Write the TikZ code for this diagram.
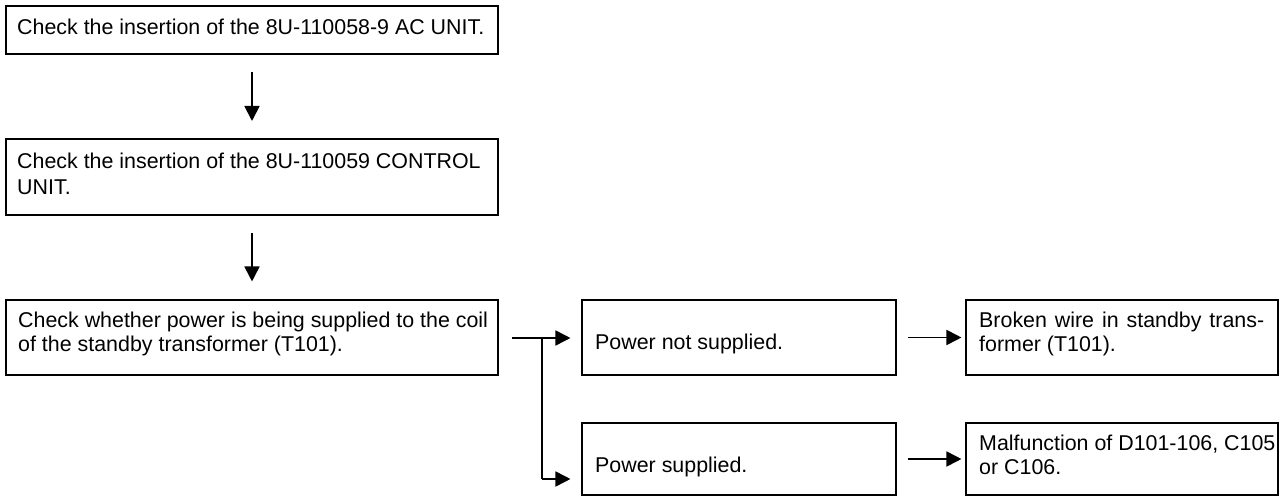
\documentclass[tikz,border=0pt]{standalone}
\usepackage{fontspec}
\setmainfont{Liberation Sans}
\usetikzlibrary{arrows.meta,calc}
\begin{document}
\begin{tikzpicture}[x=1pt,y=-1pt,
  thickbox/.style={draw,line width=2pt,inner sep=0pt},
  thinbox/.style={draw,line width=1.1pt,inner sep=0pt},
  txt/.style={anchor=north west,inner sep=0pt,align=left,font=\fontsize{21.4}{24}\selectfont},
  arr/.style={line width=1.8pt,-{Triangle[length=15pt,width=15pt]}},
  vline/.style={line width=1.8pt},
]
\useasboundingbox (0,0) rectangle (1286,497);
% boxes
\node[thickbox,minimum width=492pt,minimum height=48pt] (B1) at (252,30) {};
\node[thickbox,minimum width=492pt,minimum height=76pt] (B2) at (252,177) {};
\node[thinbox,minimum width=492pt,minimum height=75pt] (B3) at (252,337.5) {};
\node[thinbox,minimum width=314pt,minimum height=75pt] (B4) at (739,337.5) {};
\node[thinbox,minimum width=314pt,minimum height=72pt] (B5) at (739,459) {};
\node[thinbox,minimum width=312pt,minimum height=75pt] (B6) at (1122,337.5) {};
\node[thinbox,minimum width=312pt,minimum height=72pt] (B7) at (1122,459) {};
% texts
\node[txt] (T1) at (17,18) {\rule{0pt}{16pt}Check the insertion of the 8U-110058-9 AC UNIT.};
\node[txt,font=\fontsize{21.4}{26}\selectfont] (T2) at (17,152) {\rule{0pt}{16pt}Check the insertion of the 8U-110059 CONTROL\\UNIT.};
\node[txt] (T3) at (18,311) {\rule{0pt}{16pt}Check whether power is being supplied to the coil\\of the standby transformer (T101).};
\node[txt] (T4) at (595,333) {\rule{0pt}{16pt}Power not supplied.};
\node[txt] (T5) at (595,456) {\rule{0pt}{16pt}Power supplied.};
\node[txt,text width=285pt,align=justify] (T6) at (979,311) {\noindent\rule{0pt}{16pt}Broken wire in standby trans-\linebreak former (T101).};
\node[txt] (T7) at (979,434) {\rule{0pt}{16pt}Malfunction of D101-106, C105\\or C106.};
% connectors
\draw[arr,shorten <=17pt,shorten >=17pt] (B1.south) -- (B2.north);
\draw[arr,shorten <=17pt,shorten >=18pt] (B2.south) -- (B3.north);
\coordinate (s) at (512,338);
\coordinate (j) at (542,338);
\coordinate (low) at (542,479);
\draw[arr,shorten >=11pt] (s) -- (s -| B4.west);
\draw[vline] (j) -- (low);
\draw[arr,shorten >=11pt] (low) -- (low -| B5.west);
\draw[arr,shorten <=11pt,shorten >=4pt] (B4.east) -- (B6.west);
\draw[arr,shorten <=11pt,shorten >=4pt] (B5.east) -- (B7.west);
\end{tikzpicture}
\end{document}
